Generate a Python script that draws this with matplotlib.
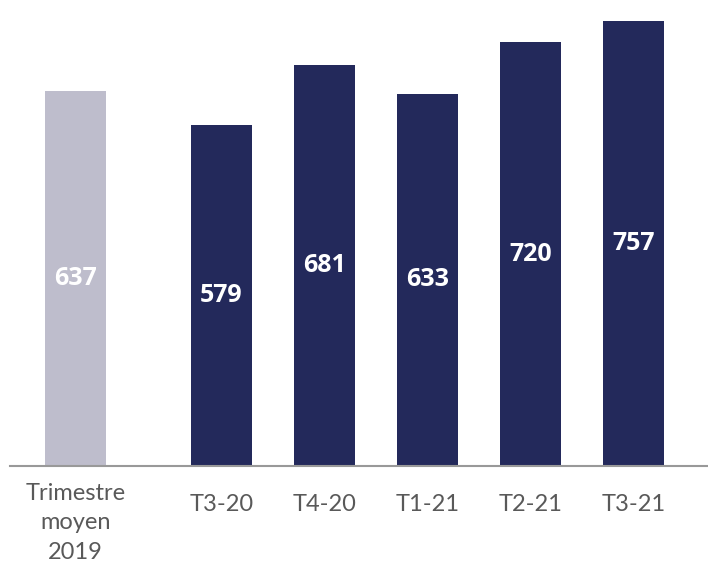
import matplotlib
matplotlib.use("Agg")
import matplotlib.pyplot as plt
from matplotlib.transforms import ScaledTranslation

# données du graphique
categories = ["Trimestre\nmoyen\n2019", "T3-20", "T4-20", "T1-21", "T2-21", "T3-21"]
values = [637, 579, 681, 633, 720, 757]
positions = [-1.417, 0, 1, 2, 3, 4]  # écart plus grand après la moyenne 2019
colors = ["#BEBDCC", "#23295B", "#23295B", "#23295B", "#23295B", "#23295B"]

plt.rcParams["font.family"] = ["Lato", "DejaVu Sans"]

fig = plt.figure(figsize=(7.08, 5.64), dpi=100)
ax = fig.add_axes([10 / 708, 98 / 564, 698 / 708, 466 / 564])

ax.bar(positions, values, width=0.59, color=colors, zorder=2)

for x, v in zip(positions, values):
    ax.text(x, v / 2, str(v), ha="center", va="center", color="white",
            fontsize=18, fontweight="bold", family=["Open Sans", "DejaVu Sans"])

ax.set_xlim(-2.053, 4.723)
ax.set_ylim(0, 792)

ax.set_xticks(positions)
ax.set_xticklabels(categories, fontsize=17, color="#595959", linespacing=1.5, va="top")
ax.tick_params(axis="x", length=0, pad=20)
ax.set_yticks([])

# le libellé sur trois lignes commence un peu plus haut
lab = ax.get_xticklabels()[0]
lab.set_transform(lab.get_transform() + ScaledTranslation(0, 11 / 100, fig.dpi_scale_trans))

for side in ["top", "right", "left"]:
    ax.spines[side].set_visible(False)
ax.spines["bottom"].set_color("#999999")
ax.spines["bottom"].set_linewidth(1.5)

fig.savefig("out.png", dpi=100)
